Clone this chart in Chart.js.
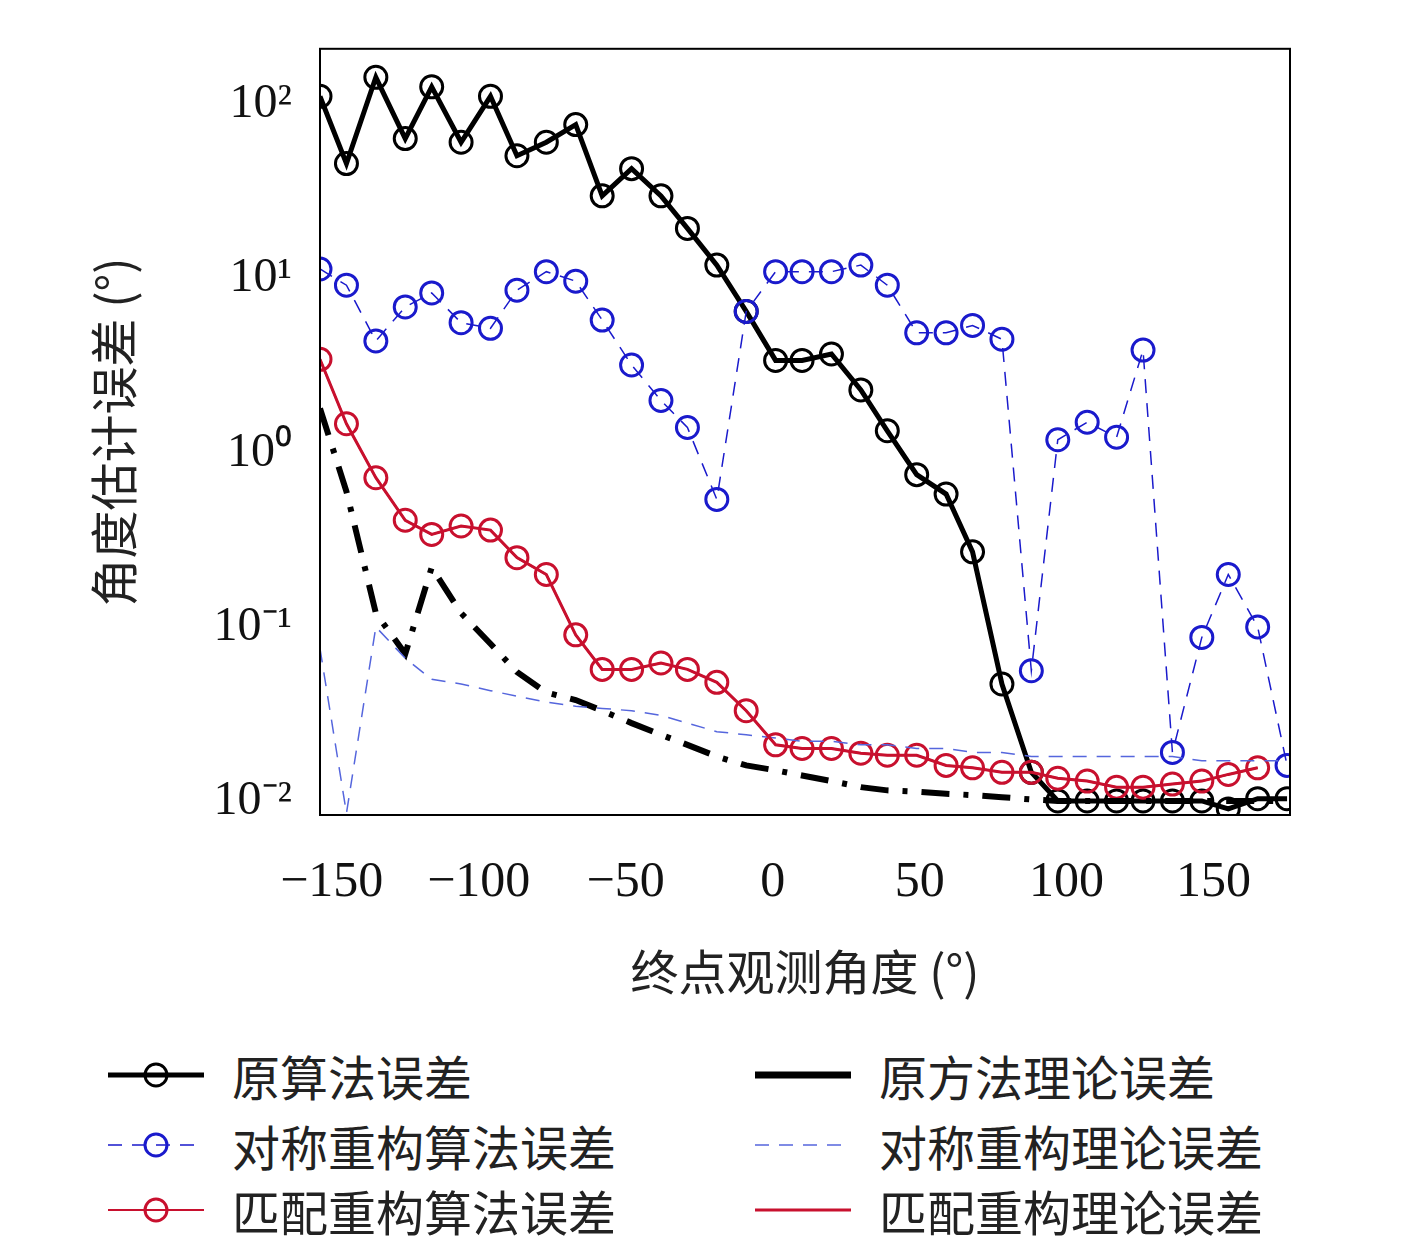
<!DOCTYPE html>
<html><head><meta charset="utf-8">
<script src="https://cdn.jsdelivr.net/npm/chart.js@4/dist/chart.umd.min.js"></script>
<style>
body{margin:0;background:#fff;width:1417px;height:1242px;overflow:hidden;font-family:"Noto Sans CJK SC",serif}
#wrap{position:relative;width:1417px;height:1040px}
#leg{position:absolute;top:1040px;left:0;width:1417px}
.it{position:absolute;display:flex;align-items:center;font-size:48px;color:#222;font-family:"Noto Sans CJK SC"}
.it canvas{margin-right:28px}
</style></head><body>
<div id="wrap"><canvas id="c" width="1417" height="1005"></canvas></div>
<div id="leg"></div>
<script>
const angulos = [-154,-145,-135,-125,-116,-106,-96,-87,-77,-67,-58,-48,-38,-29,-19,-9,1,10,20,30,39,49,59,68,78,88,97,107,117,126,136,146,155,165,175];
const origAlg = [112,46,144,64,127,61,112,51,61,77,30,43,30,19.5,12,6.5,3.4,3.4,3.7,2.3,1.34,0.75,0.58,0.27,0.047,0.0146,0.01,0.01,0.01,0.01,0.01,0.01,0.009,0.0103,0.0103];
const origTeo = [1.8,0.6,0.12,0.07,0.22,0.12,0.08,0.055,0.042,0.038,0.033,0.028,0.024,0.021,0.018,0.016,0.015,0.014,0.013,0.012,0.0115,0.0113,0.011,0.0108,0.0105,0.0102,0.01,0.01,0.01,0.01,0.01,0.01,0.01,0.01,0.01];
const simAlg = [11.4,9.2,4.4,6.9,8.3,5.6,5.2,8.6,11,9.7,5.8,3.2,2.0,1.4,0.54,6.5,11,11,11,12,9.2,4.9,4.9,5.4,4.5,0.056,1.19,1.5,1.23,3.9,0.019,0.087,0.2,0.1,0.016];
const simTeo = [0.075,0.0085,0.1,0.066,0.05,0.047,0.043,0.04,0.037,0.035,0.034,0.033,0.031,0.028,0.025,0.024,0.023,0.022,0.022,0.021,0.021,0.02,0.02,0.019,0.019,0.018,0.018,0.018,0.018,0.018,0.018,0.017,0.017,0.017,0.017];
const matAlg = [3.45,1.47,0.72,0.41,0.34,0.38,0.36,0.25,0.2,0.09,0.057,0.057,0.062,0.057,0.048,0.033,0.021,0.02,0.02,0.0188,0.0183,0.0183,0.016,0.0155,0.0146,0.0146,0.0135,0.013,0.012,0.012,0.0125,0.013,0.0142,0.0155,null];
const matTeo = matAlg.slice();
const yTicks = [0.01,0.1,1,10,100];
const yRotulos = ['10⁻²','10⁻¹','10⁰','10¹','10²'];

const pts = arr => angulos.map((x,i) => ({x:x, y:arr[i]}));
const serie = (label, arr, cor, largura, tracejado, circulo) => ({
  label: label, data: pts(arr), borderColor: cor, backgroundColor: 'rgba(0,0,0,0)',
  borderWidth: largura, borderDash: tracejado, tension: 0, spanGaps: false,
  pointRadius: circulo ? 11 : 0, pointBorderWidth: 3, pointBorderColor: cor, pointBackgroundColor: 'rgba(0,0,0,0)'
});

const moldura = {
  id: 'moldura',
  afterDraw(chart) {
    const a = chart.chartArea, c = chart.ctx;
    c.save(); c.strokeStyle = '#000'; c.lineWidth = 2;
    c.strokeRect(a.left, a.top, a.right - a.left, a.bottom - a.top);
    c.restore();
  }
};

new Chart(document.getElementById('c').getContext('2d'), {
  type: 'line',
  data: {
    datasets: [
      serie('匹配重构理论误差', matTeo, '#c8102e', 3, [], false),
      serie('对称重构理论误差', simTeo, '#5566dd', 1.5, [14, 10], false),
      serie('原方法理论误差', origTeo, '#000', 6, [28, 14, 5, 14], false),
      serie('匹配重构算法误差', matAlg, '#c8102e', 2, [], true),
      serie('对称重构算法误差', simAlg, '#1a1acc', 1.5, [14, 10], true),
      serie('原算法误差', origAlg, '#000', 5, [], true)
    ]
  },
  options: {
    responsive: false, animation: false,
    layout: { padding: { top: -32, right: 127, left: 0, bottom: 0 } },
    plugins: { legend: { display: false }, tooltip: { enabled: false } },
    scales: {
      x: {
        type: 'linear', min: -154, max: 176,
        grid: { display: false }, border: { display: false },
        afterBuildTicks: s => { s.ticks = [-150,-100,-50,0,50,100,150].map(v => ({value: v})); },
        ticks: { color: '#111', font: { family: 'Liberation Serif', size: 50 }, padding: 30,
                 callback: v => String(v).replace('-', '−') },
        title: { display: true, text: '终点观测角度 (°)', color: '#222', font: { family: 'Noto Sans CJK SC', size: 48 }, padding: { top: 0 } },
        afterFit: s => { s.height = 190; }
      },
      y: {
        type: 'logarithmic', min: 0.0083, max: 210,
        grid: { display: false }, border: { display: false },
        afterBuildTicks: s => { s.ticks = yTicks.map(v => ({value: v})); },
        ticks: { color: '#111', font: { family: 'Liberation Serif', size: 48 }, padding: 20,
                 callback: v => yRotulos[yTicks.indexOf(v)] },
        title: { display: true, text: '角度估计误差 (°)', color: '#222', font: { family: 'Noto Sans CJK SC', size: 48 }, padding: { top: 85, bottom: 0 } },
        afterFit: s => { s.width = 320; }
      }
    }
  },
  plugins: [moldura]
});

// legenda em html, duas colunas
const itens = [
  ['原算法误差', '#000', 5, [], true, 108, 1075],
  ['对称重构算法误差', '#1a1acc', 1.5, [14, 10], true, 108, 1145],
  ['匹配重构算法误差', '#c8102e', 2, [], true, 108, 1210],
  ['原方法理论误差', '#000', 7, [], false, 755, 1075],
  ['对称重构理论误差', '#5566dd', 1.5, [14, 10], false, 755, 1145],
  ['匹配重构理论误差', '#c8102e', 3, [], false, 755, 1210]
];
const leg = document.getElementById('leg');
itens.forEach(it => {
  const d = document.createElement('div');
  d.className = 'it';
  d.style.left = it[5] + 'px';
  d.style.top = (it[6] - 1040 - 35) + 'px';
  const cv = document.createElement('canvas');
  cv.width = 96; cv.height = 70;
  const g = cv.getContext('2d');
  g.strokeStyle = it[1]; g.lineWidth = it[2]; g.setLineDash(it[3]);
  g.beginPath(); g.moveTo(0, 35); g.lineTo(96, 35); g.stroke();
  if (it[4]) { g.setLineDash([]); g.lineWidth = 3; g.beginPath(); g.arc(48, 35, 11, 0, Math.PI * 2); g.stroke(); }
  d.appendChild(cv);
  const t = document.createElement('span'); t.textContent = it[0];
  d.appendChild(t);
  leg.appendChild(d);
});
</script>
</body></html>
